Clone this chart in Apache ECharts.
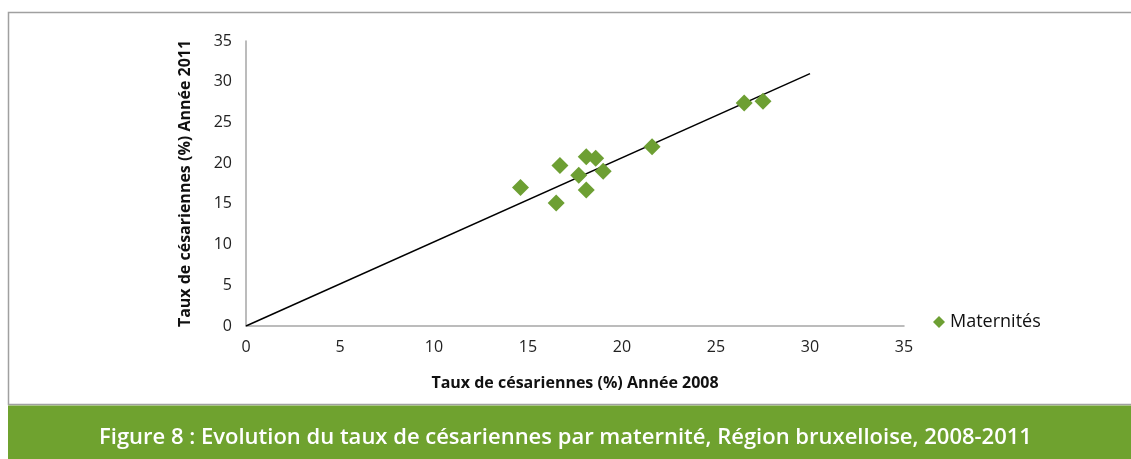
<!DOCTYPE html>
<html>
<head>
<meta charset="utf-8">
<script src="https://cdn.jsdelivr.net/npm/echarts@6/dist/echarts.min.js"></script>
<style>
  html, body { margin: 0; padding: 0; background: #fff; }
  #container { width: 1131px; height: 459px; }
</style>
</head>
<body>
<div id="container"></div>
<script>
// taux 2008 / taux 2011 par maternité
var taux2008 = [14.6, 16.5, 16.7, 17.7, 18.1, 18.1, 18.6, 19.0, 21.6, 26.5, 27.5];
var taux2011 = [17.0, 15.1, 19.7, 18.5, 20.8, 16.7, 20.6, 19.0, 22.0, 27.4, 27.6];
// droite de référence
var ligneX = [0, 30];
var ligneY = [0, 31];
var ticksAxe = [0, 5, 10, 15, 20, 25, 30, 35];

var points = [];
for (var i in taux2008) {
	points.push([taux2008[i], taux2011[i]]);
}
var ligne = [];
for (var j in ligneX) {
	ligne.push([ligneX[j], ligneY[j]]);
}

var vert = '#6d9f33';
var fontTicks = 'Open Sans';

var chart = echarts.init(document.getElementById('container'));
var option = {
	animation: false,
	grid: { left: 246, right: 227, top: 41, bottom: 133 },
	xAxis: {
		type: 'value',
		min: ticksAxe[0], max: ticksAxe[ticksAxe.length - 1], interval: 5,
		name: 'Taux de césariennes (%) Année 2008',
		nameLocation: 'middle', nameGap: 49,
		nameTextStyle: { fontFamily: fontTicks, fontWeight: 'bold', fontSize: 16, color: '#111' },
		axisLine: { lineStyle: { color: '#a6a6a6', width: 1.5 } },
		axisTick: { show: false },
		splitLine: { show: false },
		axisLabel: { fontFamily: fontTicks, fontSize: 16, color: '#222', margin: 13 }
	},
	yAxis: {
		type: 'value',
		min: ticksAxe[0], max: ticksAxe[ticksAxe.length - 1], interval: 5,
		name: 'Taux de césariennes (%) Année 2011',
		nameLocation: 'middle', nameGap: 53,
		nameTextStyle: { fontFamily: fontTicks, fontWeight: 'bold', fontSize: 16, color: '#111' },
		axisLine: { show: true, lineStyle: { color: '#a6a6a6', width: 1.5 } },
		axisTick: { show: false },
		splitLine: { show: false },
		axisLabel: { fontFamily: fontTicks, fontSize: 16, color: '#222', margin: 14 }
	},
	legend: {
		data: [{ name: 'Maternités', icon: 'diamond' }],
		left: 928, top: 308,
		itemWidth: 12, itemHeight: 12, itemGap: 7,
		textStyle: { fontFamily: fontTicks, fontSize: 18, color: '#111' }
	},
	graphic: [
		{ type: 'polyline', silent: true, z: -1,
		  shape: { points: [[1131, 12.5], [8.5, 12.5], [8.5, 404.5], [1131, 404.5]] },
		  style: { stroke: '#a0a0a0', lineWidth: 1.5, fill: null } },
		{ type: 'rect', silent: true,
		  shape: { x: 8, y: 405.5, width: 1123, height: 54 },
		  style: { fill: '#6fa22f' } },
		{ type: 'text', silent: true,
		  left: 'center', top: 427,
		  style: { text: 'Figure 8 : Evolution du taux de césariennes par maternité, Région bruxelloise, 2008-2011',
		           fill: '#fff', font: '600 22px "Open Sans"' } }
	],
	series: [
		{
			name: 'droite',
			type: 'line',
			data: ligne,
			showSymbol: false,
			symbol: 'none',
			lineStyle: { color: '#000', width: 1.5 },
			z: 1
		},
		{
			name: 'Maternités',
			type: 'scatter',
			data: points,
			symbol: 'diamond',
			symbolSize: 17,
			itemStyle: { color: vert, opacity: 1 },
			z: 2
		}
	]
};
chart.setOption(option);
window.addEventListener('resize', function () {
	chart.resize();
});
</script>
</body>
</html>
